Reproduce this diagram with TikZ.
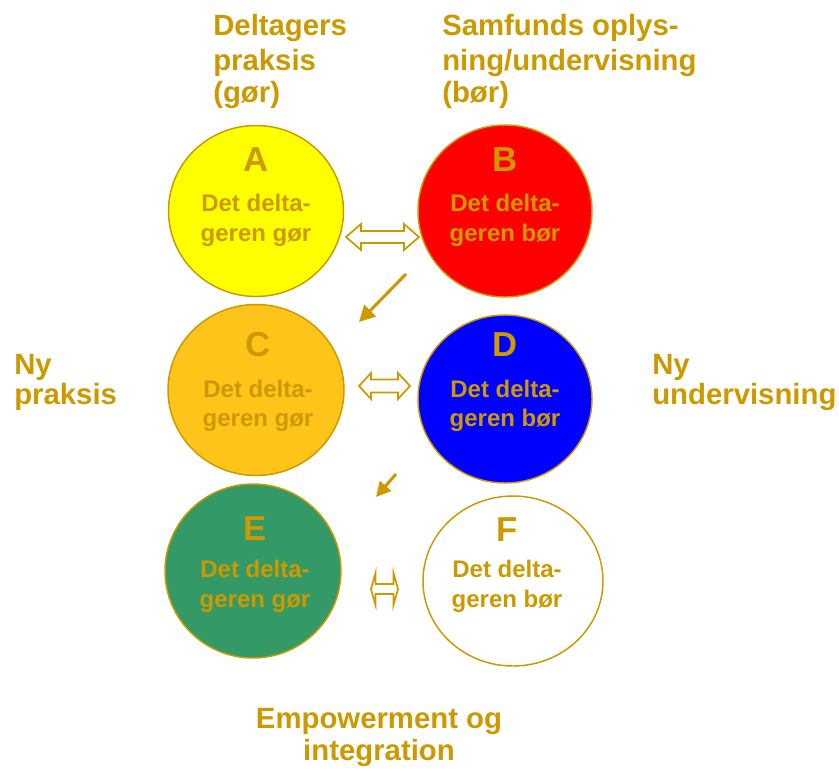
\documentclass[tikz,border=0pt]{standalone}
\usepackage{fontspec}
\setmainfont{Liberation Sans}
\usetikzlibrary{shapes.geometric,arrows.meta}
\definecolor{gold}{RGB}{204,153,0}
\definecolor{cyel}{RGB}{255,255,0}
\definecolor{cred}{RGB}{255,0,0}
\definecolor{camb}{RGB}{255,196,26}
\definecolor{cblu}{RGB}{0,0,255}
\definecolor{cgrn}{RGB}{51,153,102}
\tikzset{
  circ/.style={ellipse,draw=gold,line width=1.1pt,inner sep=0pt,outer sep=0pt},
  letter/.style={text=gold,font=\fontsize{26}{30}\selectfont\bfseries,anchor=base,inner sep=0pt},
  body/.style={text=gold,font=\fontsize{18}{22}\selectfont\bfseries,anchor=base,inner sep=0pt},
  head/.style={text=gold,font=\fontsize{22}{25}\selectfont\bfseries,anchor=base west,inner sep=0pt},
  dbl/.style={draw=gold,fill=white,line width=1.3pt,line join=miter},
  diag/.style={draw=gold,line width=2.3pt,-{Triangle[length=12pt,width=12pt]}}
}
\newcommand\dblarr[7]{% name, xL, xR, y, halfhead, halfshaft, headlen
  \draw[dbl] (#2,#4) coordinate (#1) -- (#2+#7,#4-#5) -- (#2+#7,#4-#6) -- (#3-#7,#4-#6) -- (#3-#7,#4-#5)
    -- (#3,#4) -- (#3-#7,#4+#5) -- (#3-#7,#4+#6) -- (#2+#7,#4+#6) -- (#2+#7,#4+#5) -- cycle;}
\begin{document}
\begin{tikzpicture}[x=0.75pt,y=-0.75pt]
\useasboundingbox (0,0) rectangle (839,771);
% circles
\node[circ,fill=cyel,minimum width=131.25pt,minimum height=128.25pt] (cA) at (256,211) {};
\node[circ,fill=cred,minimum width=130.5pt,minimum height=129pt] (cB) at (505,211) {};
\node[circ,fill=camb,minimum width=132pt,minimum height=128.25pt] (cC) at (256,390) {};
\node[circ,fill=cblu,minimum width=130.5pt,minimum height=126pt] (cD) at (505,399) {};
\node[circ,fill=cgrn,minimum width=132pt,minimum height=130.5pt] (cE) at (253,571) {};
\node[circ,fill=white,minimum width=135pt,minimum height=127.5pt] (cF) at (513,581) {};
% circle texts
\node[letter] (lA) at (256,171) {A};
\node[body] (tA1) at (256,211) {Det delta-};
\node[body] (tA2) at (256,241) {geren gør};
\node[letter] (lB) at (505,171) {B};
\node[body] (tB1) at (505,211) {Det delta-};
\node[body] (tB2) at (505,241) {geren bør};
\node[letter] (lC) at (258,356) {C};
\node[body] (tC1) at (258,397) {Det delta-};
\node[body] (tC2) at (258,426) {geren gør};
\node[letter] (lD) at (505,356) {D};
\node[body] (tD1) at (505,397) {Det delta-};
\node[body] (tD2) at (505,426) {geren bør};
\node[letter] (lE) at (255,540) {E};
\node[body] (tE1) at (255,577) {Det delta-};
\node[body] (tE2) at (255,607) {geren gør};
\node[letter] (lF) at (507,541) {F};
\node[body] (tF1) at (507,577) {Det delta-};
\node[body] (tF2) at (507,607) {geren bør};
% headers
\node[head] (h1a) at (213,36) {Deltagers};
\node[head] (h1b) at (213,70) {praksis};
\node[head] (h1c) at (213,102) {(gør)};
\node[head] (h2a) at (442,36) {Samfunds oplys-};
\node[head] (h2b) at (442,70) {ning/undervisning};
\node[head] (h2c) at (442,102) {(bør)};
\node[head] (h3a) at (14,374) {Ny};
\node[head] (h3b) at (14,404) {praksis};
\node[head] (h4a) at (652,374) {Ny};
\node[head] (h4b) at (652,404) {undervisning};
\node[head,anchor=base] (h5a) at (379,728) {Empowerment og};
\node[head,anchor=base] (h5b) at (379,760) {integration};
% double arrows
\dblarr{dAB}{346}{419}{237}{13}{6}{15}
\dblarr{dCD}{359}{410}{386}{13}{6.5}{12}
\dblarr{dEF}{371}{398}{589}{16}{5}{4.5}
% diagonal arrows
\coordinate (s1) at (406,274);
\coordinate (e1) at (359,322);
\coordinate (s2) at (396,474);
\coordinate (e2) at (376,497);
\draw[diag] (s1) -- (e1);
\draw[diag,-{Triangle[length=11pt,width=11pt]}] (s2) -- (e2);
\end{tikzpicture}
\end{document}
